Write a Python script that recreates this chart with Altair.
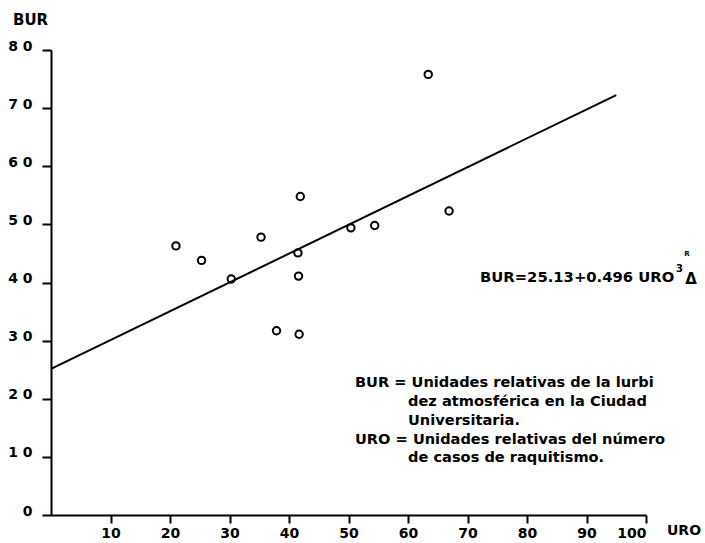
import altair as alt
import pandas as pd

# ---- data ----
uro = [21.0, 25.3, 30.3, 35.3, 41.5, 41.9, 41.6, 37.9, 41.7, 50.4, 54.4, 63.4, 66.9]
bur = [46.3, 43.8, 40.6, 47.8, 45.1, 54.8, 41.1, 31.7, 31.1, 49.4, 49.8, 75.8, 52.3]

line_uro = [0, 95]
line_bur = [25.13, 72.25]

x_ticks = [10, 20, 30, 40, 50, 60, 70, 80, 90, 100]
y_ticks = [0, 10, 20, 30, 40, 50, 60, 70, 80]

equation = "BUR=25.13+0.496 URO"
legend_bur = ["BUR = Unidades relativas de la lurbi",
              "dez atmosférica en la Ciudad",
              "Universitaria."]
legend_uro = ["URO = Unidades relativas del número",
              "de casos de raquitismo."]

FONT = "DejaVu Sans"

pts = pd.DataFrame({"URO": uro, "BUR": bur})
reg = pd.DataFrame({"URO": line_uro, "BUR": line_bur})

xs = alt.Scale(domain=[0, 100], nice=False, zero=False)
ys = alt.Scale(domain=[0, 80], nice=False, zero=False)

x_axis = alt.Axis(values=x_ticks, title=None, grid=False, domainColor="black",
                  domainWidth=2, tickColor="black", tickWidth=2, tickSize=8,
                  labelColor="black", labelFont=FONT, labelFontWeight="bold",
                  labelFontSize=14, labelPadding=3)
y_axis = alt.Axis(values=y_ticks, title=None, grid=False, domainColor="black",
                  domainWidth=2, tickColor="black", tickWidth=2, tickSize=9,
                  labelColor="black", labelFont=FONT, labelFontWeight="bold",
                  labelFontSize=14, labelPadding=10, labelOffset=-4,
                  labelExpr="datum.value == 0 ? '0' : floor(datum.value / 10) + ' 0'")

points = alt.Chart(pts).mark_point(shape="circle", filled=False, color="black",
                                   strokeWidth=2, size=55, opacity=1).encode(
    x=alt.X("URO:Q", scale=xs, axis=x_axis),
    y=alt.Y("BUR:Q", scale=ys, axis=y_axis),
)

line = alt.Chart(reg).mark_line(color="black", strokeWidth=2).encode(
    x=alt.X("URO:Q", scale=xs),
    y=alt.Y("BUR:Q", scale=ys),
)


def txt(s, x, y, size=14, align="left", weight="bold", baseline="middle"):
    return alt.Chart(pd.DataFrame({"t": [s]})).mark_text(
        font=FONT, fontSize=size, fontWeight=weight, align=align,
        baseline=baseline, color="black").encode(
        text="t:N", x=alt.value(x), y=alt.value(y))


layers = [line, points,
          txt("BUR", -38, -30, size=15),
          txt("URO", 616, 481, size=14),
          txt(equation, 429, 228, size=14.8),
          txt("3", 625, 219, size=10),
          txt("Δ", 640, 229, size=15, align="center"),
          txt("R", 636, 204, size=7, align="center"),
          ]
for i, s in enumerate(legend_bur):
    layers.append(txt(s, 304 if i == 0 else 357, 333 + 19 * i, size=14.6))
for i, s in enumerate(legend_uro):
    layers.append(txt(s, 304 if i == 0 else 357, 390 + 18 * i, size=14.6))

chart = alt.layer(*layers).properties(
    width=595, height=465,
    padding={"left": 51, "top": 50, "right": 59, "bottom": 28},
    autosize=alt.AutoSizeParams(type="none"),
    background="white",
).configure_view(stroke=None)

chart.save("out.html", embed_options={"renderer": "svg", "actions": False})
